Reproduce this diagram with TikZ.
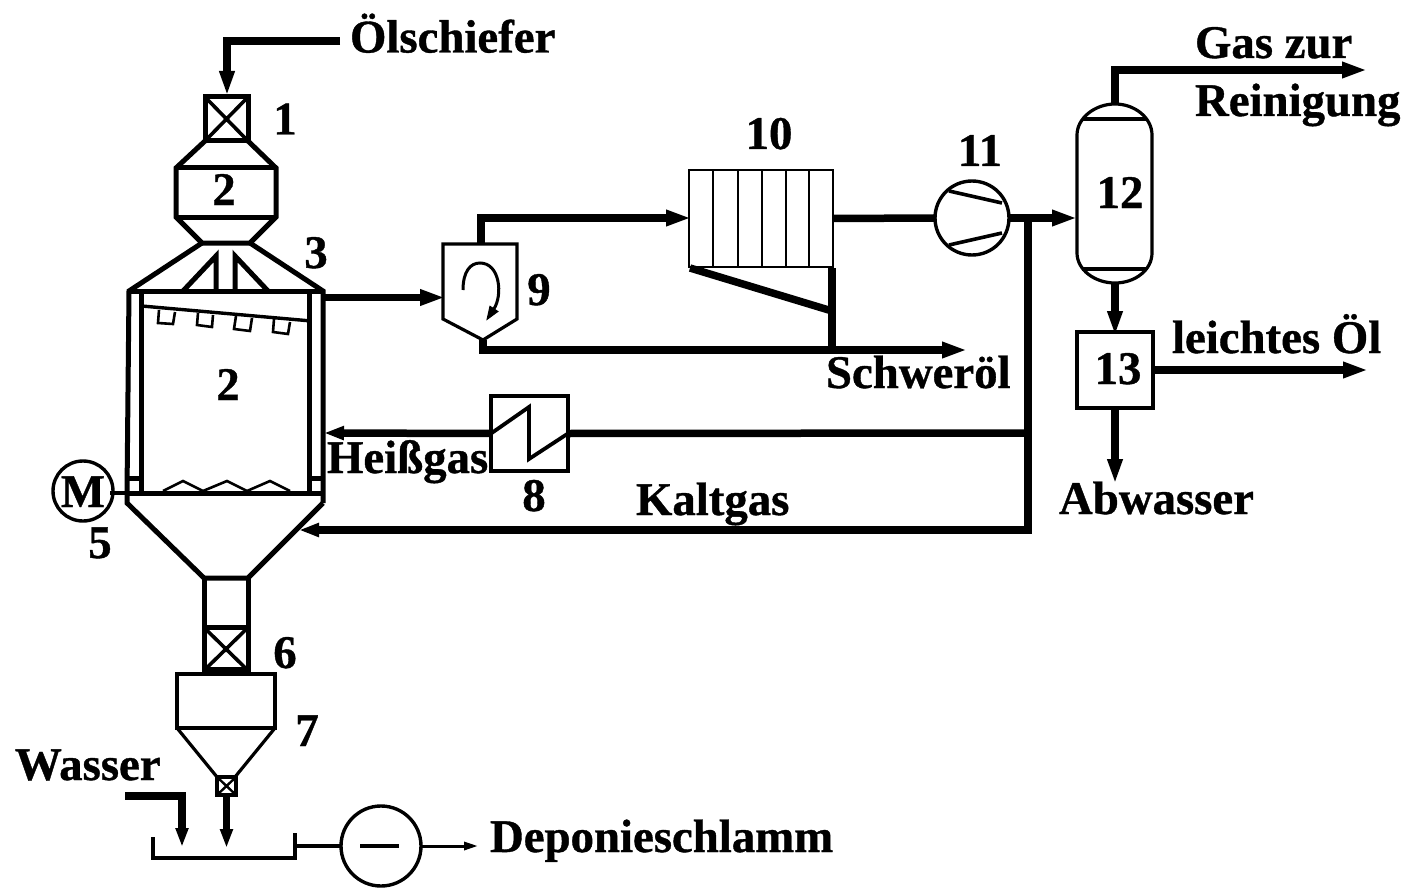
\documentclass[tikz,border=0pt]{standalone}
\usepackage{fontspec}
\setmainfont[BoldFeatures={FakeBold=0.8}]{Liberation Serif}
\usetikzlibrary{arrows.meta}
\tikzset{
  x=1pt,y=-1pt,
  lbl/.style={inner sep=0pt,outer sep=0pt,font=\fontsize{46.8}{50}\selectfont\bfseries,text=black},
  lblw/.style={lbl,anchor=base west},
  lblc/.style={lbl,anchor=base},
  vessel/.style={draw=black,line width=5pt,line join=miter},
  thin line/.style={draw=black,line width=3.2pt,line join=miter},
  box/.style={draw=black,line width=3.4pt,rectangle,inner sep=0pt,outer sep=0pt},
  ring/.style={draw=black,line width=3.4pt,circle,inner sep=0pt,outer sep=0pt},
  flow/.style={draw=black,line width=7.5pt,line join=miter},
  flowa/.style={flow,-{Triangle[length=25pt,width=15pt]}},
  flowv/.style={flow,-{Triangle[length=25pt,width=14pt]}},
  flowh/.style={flow,-{Triangle[length=20pt,width=13pt]}},
  small/.style={draw=black,line width=3pt,-{Triangle[length=14pt,width=8pt]}},
}
\begin{document}
\begin{tikzpicture}
\useasboundingbox (0,0) rectangle (1403,888);
% --- equipment nodes ---
\node[box,line width=5pt,minimum width=43pt,minimum height=44pt] (lockA) at (226.5,119) {};
\node[box,line width=5pt,minimum width=44pt,minimum height=43pt] (lockB) at (226,649) {};
\node[box,minimum width=98pt,minimum height=54pt] (settler) at (226,701) {};
\node[box,minimum width=19pt,minimum height=18pt] (lockC) at (226.5,786) {};
\node[box,minimum width=77pt,minimum height=75pt] (heater) at (529.5,433.5) {};
\node[box,line width=2.6pt,minimum width=144pt,minimum height=97pt] (cond) at (761,218.5) {};
\node[box,minimum width=76pt,minimum height=76pt] (sep) at (1115,370) {};
\node[ring,minimum size=74pt] (comp) at (972,218) {};
\node[ring,minimum size=60pt] (motor) at (83,491) {};
\node[ring,minimum size=80pt] (filter) at (381,846) {};
% --- named points ---
\coordinate (feed) at (340,41);
\coordinate (feedC) at (227,41);
\coordinate (cycIn) at (445,297.5);
\coordinate (reactOut) at (323,297.5);
\coordinate (cycTop) at (481,244);
\coordinate (cycBot) at (483,340);
\coordinate (hv) at (1028,218);
\coordinate (hot) at (1028,433);
\coordinate (cold) at (1028,530);
\coordinate (reactHot) at (324,433);
\coordinate (reactCold) at (299,530);
\coordinate (sepIn) at (1077,218);
\coordinate (colTop) at (1115,104);
\coordinate (colBot) at (1115,283);
\coordinate (wedgeA) at (690,268);
\coordinate (wedgeB) at (832,311);
\coordinate (cyOilEnd) at (967,350);
\coordinate (cyOilMid) at (832,350);
% --- upper hopper ---
\draw[vessel] (205,141) -- (176,168) -- (176,217) -- (202,243) -- (250,243) -- (276,217) -- (276,168) -- (248,141);
\draw[vessel] (176,168) -- (276,168) (176,217) -- (276,217);
\draw[vessel,line width=3.6pt] (lockA.north west) -- (lockA.south east) (lockA.north east) -- (lockA.south west);
% --- reactor ---
\draw[vessel] (202,243) -- (129,291) -- (127,493) (250,243) -- (323,291) -- (323,503);
\draw[vessel] (129,291) -- (323,291);
\draw[vessel] (183,291) -- (216,256) -- (216,291) (235,291) -- (235,256) -- (268,291);
\draw[vessel] (141,291) -- (141,493) (309,291) -- (309,493);
\draw[vessel] (127,478) -- (141,478) (309,478) -- (323,478);
\draw[vessel] (127,493) -- (323,493);
\draw[vessel,line width=3.4pt] (141.7,306) -- (308,320.7);
\draw[thin line,line width=2.6pt] (159,310) -- (158,323) -- (173,324) -- (175,312);
\draw[thin line,line width=2.6pt] (198,313) -- (197,325) -- (212,327) -- (213,315);
\draw[thin line,line width=2.6pt] (236,316) -- (234,329) -- (250,331) -- (252,318);
\draw[thin line,line width=2.6pt] (274,319) -- (273,332) -- (288,334) -- (290,322);
\draw[thin line,line width=2.6pt] (163,491) -- (183,481) -- (203,491) -- (227,481) -- (247,491) -- (270,481) -- (290,491);
\draw[vessel] (127,493) -- (127,503) -- (204,578) -- (248,578) -- (323,503);
\draw[vessel] (204,578) -- (204,627) (248,578) -- (248,627);
\draw[thin line] (motor) ++(27,2) -- (127,493);
% --- lower lock, settler ---
\draw[vessel,line width=3.6pt] (lockB.north west) -- (lockB.south east) (lockB.north east) -- (lockB.south west);
\draw[line width=7pt] (lockB.south west) -- (lockB.south east);
\draw[thin line] (settler.south west) -- (217,777) (settler.south east) -- (235,777);
\draw[thin line,line width=2.4pt] (lockC.north west) -- (lockC.south east) (lockC.north east) -- (lockC.south west);
% --- water and basin ---
\coordinate (wStart) at (125,796);
\coordinate (wCorner) at (182,796);
\coordinate (wEnd) at (182,847);
\coordinate (sludgeEnd) at (226.5,848);
\coordinate (basinL) at (153,837);
\coordinate (basinR) at (295,833);
\coordinate (basinM) at (295,846);
\coordinate (depo) at (478,846);
\draw[flow,-{Triangle[length=19pt,width=12pt]}] (wStart) -- (wCorner) -- (wEnd);
\draw[flow,-{Triangle[length=19pt,width=12pt]}] (lockC.south) -- (sludgeEnd);
\draw[thin line] (basinL) -- (153,858) -- (295,858) -- (basinR);
\draw[thin line] (basinM) -- (filter.west);
\draw[thin line] (360,846) -- (399,846);
\draw[small] (filter.east) -- (depo);
% --- cyclone ---
\draw[thin line] (443,244) -- (517,244) -- (517,319) -- (cycBot) -- (443,319) -- cycle;
\draw[draw=black,line width=3pt,-{Triangle[length=15pt,width=10pt]}] (463,290) .. controls (463,272) and (470,263) .. (480,263) .. controls (500,263) and (503,295) .. (486,321);
% --- condenser ---
\foreach \x in {713,738,762,786,809} \draw[thin line,line width=2.6pt] (\x,170) -- (\x,267);
% --- compressor blades ---
\draw[thin line,line width=3.6pt] (949,191) -- (1002,203) (949,245) -- (1002,233);
% --- heater zigzag ---
\draw[vessel,line width=3.8pt,line join=miter] (heater.west) -- (529,407) -- (529,459) -- (heater.east);
% --- column ---
\draw[thin line] (1077,135) .. controls (1077,118) and (1095,104) .. (colTop) .. controls (1135,104) and (1152,118) .. (1152,135) -- (1152,253) .. controls (1152,270) and (1135,283) .. (colBot) .. controls (1095,283) and (1077,270) .. (1077,253) -- cycle;
\draw[thin line] (1082,119) -- (1147,119) (1082,269) -- (1147,269);
% --- flows ---
\draw[flowv] (feed) -- (feedC) -- (227,96);
\draw[flowa] (reactOut) -- (cycIn);
\draw[flowa] (cycTop) -- (481,218) -- (691,218);
\draw[flow] (wedgeA) -- (wedgeB);
\draw[flow] (832,268) -- (cyOilMid);
\draw[flowa] (cycBot) -- (483,350) -- (cyOilEnd);
\draw[flow] (cond.east) -- (comp.west);
\draw[flowa] (comp.east) -- (sepIn);
\draw[flow] (hv) -- (cold);
\draw[flow] (hot) -- (heater.east);
\draw[flowh] (heater.west) -- (reactHot);
\draw[flowh] (cold) ++(3.75,0) -- (reactCold);
\draw[flowa] (colTop) -- (1115,70) -- (1367,70);
\draw[flowv] (colBot) -- (1115,336);
\draw[flowa] (sep.east) -- (1368,370);
\draw[flowv] (sep.south) -- (1115,484);
% --- labels ---
\node[lblw] (tOil) at (350,52.5) {Ölschiefer};
\node[lblc] (t1) at (285,134.5) {1};
\node[lblc] (t2a) at (224,205) {2};
\node[lblc] (t3) at (316,268) {3};
\node[lblc] (t2b) at (228,400) {2};
\node[lblc] (tM) at (83,507) {M};
\node[lblc] (t5) at (100,558) {5};
\node[lblc] (t6) at (285,668) {6};
\node[lblc] (t7) at (307,746) {7};
\node[lblw] (tW) at (15,780) {Wasser};
\node[lblw] (tD) at (490,852) {Deponieschlamm};
\node[lblc] (t9) at (539,305) {9};
\node[lblc] (t10) at (769,149) {10};
\node[lblc] (t11) at (980,166) {11};
\node[lblc] (t12) at (1120,208) {12};
\node[lblc] (t13) at (1118,384) {13};
\node[lblc] (t8) at (534,511) {8};
\node[lblw] (tG) at (1195,58) {Gas zur};
\node[lblw] (tR) at (1195,116) {Reinigung};
\node[lblw] (tL) at (1172,353) {leichtes Öl};
\node[lblw] (tS) at (826,388) {Schweröl};
\node[lblw] (tH) at (327,473) {Heißgas};
\node[lblw] (tK) at (636,515) {Kaltgas};
\node[lblw] (tA) at (1059,514) {Abwasser};
\end{tikzpicture}
\end{document}
